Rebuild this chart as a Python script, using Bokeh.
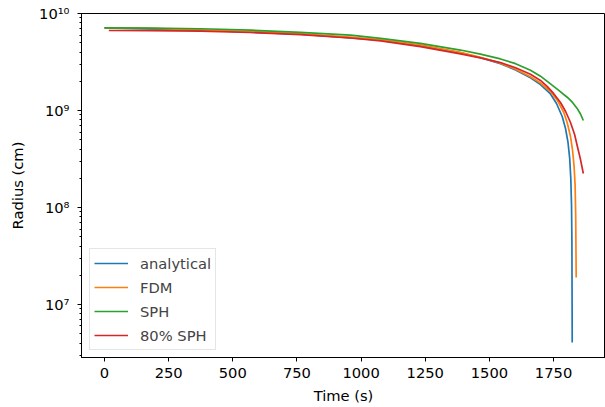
from bokeh.plotting import figure
from bokeh.models import FixedTicker, CustomJSTickFormatter, Legend, LegendItem, Range1d
from bokeh.embed import file_html
from bokeh.resources import INLINE

# ---- data (time in s, radius in cm) ----
t_analytical = [0, 374, 764, 1076, 1231, 1387, 1465, 1543, 1602, 1660, 1699, 1738, 1761.5,
                1783.7, 1796.6, 1806.3, 1812.9, 1817.2, 1820, 1821.5, 1822.7]
r_analytical = [7.10e9, 6.72e9, 6.12e9, 5.30e9, 4.68e9, 3.93e9, 3.50e9, 3.04e9, 2.62e9,
                2.17e9, 1.85e9, 1.48e9, 1.18e9, 8.67e8, 6.52e8, 4.68e8, 3.20e8, 1.99e8,
                1.05e8, 4.57e7, 4.06e6]

t_fdm = [0, 179, 374, 569, 764, 959, 1076, 1231, 1387, 1465, 1543, 1602, 1660, 1699,
         1738, 1765, 1790, 1804, 1816, 1824, 1830, 1834, 1836.3, 1838.2]
r_fdm = [7.12e9, 7.04e9, 6.76e9, 6.52e9, 6.18e9, 5.71e9, 5.34e9, 4.74e9, 3.98e9, 3.54e9,
         3.08e9, 2.66e9, 2.23e9, 1.92e9, 1.57e9, 1.27e9, 9.54e8, 7.35e8, 5.40e8, 3.87e8,
         2.65e8, 1.69e8, 8.27e7, 1.90e7]

t_sph = [0, 179, 374, 569, 764, 959, 1076, 1231, 1387, 1465, 1543, 1602, 1660, 1699,
         1738, 1769, 1803, 1824, 1842, 1855, 1866]
r_sph = [7.12e9, 7.07e9, 6.96e9, 6.73e9, 6.40e9, 5.99e9, 5.55e9, 4.93e9, 4.20e9, 3.81e9,
         3.40e9, 3.04e9, 2.60e9, 2.26e9, 1.88e9, 1.62e9, 1.37e9, 1.21e9, 1.05e9, 9.20e8, 7.89e8]

t_sph80 = [17, 179, 374, 569, 764, 959, 1076, 1231, 1387, 1465, 1543, 1602, 1660, 1699,
           1725, 1750, 1777, 1797, 1816, 1832, 1842, 1855, 1866]
r_sph80 = [6.68e9, 6.65e9, 6.57e9, 6.37e9, 6.05e9, 5.59e9, 5.21e9, 4.55e9, 3.84e9, 3.49e9,
           3.12e9, 2.76e9, 2.36e9, 2.04e9, 1.77e9, 1.50e9, 1.21e9, 9.77e8, 7.52e8, 5.66e8,
           4.36e8, 3.12e8, 2.24e8]

x_ticks = [0, 250, 500, 750, 1000, 1250, 1500, 1750]
y_ticks = [1e7, 1e8, 1e9, 1e10]
y_minor = [m * 10 ** e for e in range(6, 10) for m in range(2, 10)]

series = [
    ("analytical", t_analytical, r_analytical, "#1f77b4"),
    ("FDM", t_fdm, r_fdm, "#ff7f0e"),
    ("SPH", t_sph, r_sph, "#2ca02c"),
    ("80% SPH", t_sph80, r_sph80, "#d62728"),
]

FONT = "DejaVu Sans"
FS = "14.7px"

p = figure(width=605, height=407, y_axis_type="log",
           x_range=Range1d(-89.6, 1952.4), y_range=Range1d(2.84e6, 1.0e10),
           output_backend="svg", toolbar_location=None,
           min_border_left=81, min_border_right=0, min_border_top=13, min_border_bottom=50)

p.xgrid.visible = False
p.ygrid.visible = False
p.outline_line_color = "black"
p.outline_line_alpha = 1.0
p.outline_line_width = 1

items = []
for name, t, r, c in series:
    rend = p.line(t, r, line_color=c, line_width=1.7, line_join="round")
    items.append(LegendItem(label=name, renderers=[rend]))

p.xaxis.ticker = FixedTicker(ticks=x_ticks)
p.yaxis.ticker = FixedTicker(ticks=y_ticks, minor_ticks=y_minor)
p.yaxis.formatter = CustomJSTickFormatter(code="""
const sup = {'0':'\u2070','1':'\u00b9','2':'\u00b2','3':'\u00b3','4':'\u2074',
             '5':'\u2075','6':'\u2076','7':'\u2077','8':'\u2078','9':'\u2079','-':'\u207b'};
const e = Math.round(Math.log10(tick));
return '10' + String(e).split('').map(c => sup[c]).join('');
""")

for ax in (p.xaxis[0], p.yaxis[0]):
    ax.axis_line_color = "black"
    ax.axis_line_width = 1
    ax.major_tick_line_color = "black"
    ax.minor_tick_line_color = "black"
    ax.major_tick_out = 4
    ax.major_tick_in = 0
    ax.minor_tick_out = 2
    ax.minor_tick_in = 0
    ax.major_label_text_font = FONT
    ax.major_label_text_font_size = FS
    ax.major_label_text_color = "black"
    ax.axis_label_text_font = FONT
    ax.axis_label_text_font_size = FS
    ax.axis_label_text_font_style = "normal"
    ax.axis_label_text_color = "black"

p.xaxis.axis_label = "Time (s)"
p.yaxis.axis_label = "Radius (cm)"
p.xaxis.major_label_standoff = 6
p.yaxis.major_label_standoff = 8
p.xaxis.axis_label_standoff = 6
p.yaxis.axis_label_standoff = 10

legend = Legend(items=items, location=(8, 7), margin=0,
                label_text_font=FONT, label_text_font_size=FS,
                glyph_width=34, glyph_height=20, label_height=20,
                spacing=4, padding=4, label_standoff=12,
                border_line_color="#cccccc", border_line_width=1,
                background_fill_color="white", background_fill_alpha=0.8)
p.add_layout(legend)

open("out.html", "w").write(file_html(p, INLINE))
